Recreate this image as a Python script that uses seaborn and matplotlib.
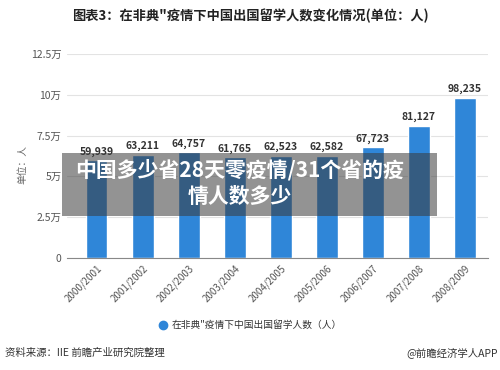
import matplotlib
matplotlib.use('Agg')
import matplotlib.pyplot as plt
import seaborn as sns
import pandas as pd
from matplotlib.patches import Rectangle
from matplotlib.lines import Line2D

# data
years = ['2000/2001', '2001/2002', '2002/2003', '2003/2004', '2004/2005',
         '2005/2006', '2006/2007', '2007/2008', '2008/2009']
students = [59939, 63211, 64757, 61765, 62523, 62582, 67723, 81127, 98235]
y_ticks = [0, 25000, 50000, 75000, 100000, 125000]
y_tick_labels = ['0', '2.5万', '5万', '7.5万', '10万', '12.5万']

sns.set_theme(style='white')
plt.rcParams['font.family'] = ['Noto Sans CJK SC', 'DejaVu Sans']

df = pd.DataFrame({'year': years, 'students': students})

fig = plt.figure(figsize=(5, 3.7), dpi=100)
ax = fig.add_axes([0.134, 0.303, 0.842, 0.551])

sns.barplot(data=df, x='year', y='students', color='#2f86d8', width=0.46,
            saturation=1, ax=ax)

ax.set_xlim(-0.65, 8.5)
ax.set_ylim(0, 125000)
ax.set_yticks(y_ticks)
ax.set_yticklabels(y_tick_labels, fontsize=7.5, color='#555555')
ax.yaxis.grid(True, color='#e3e3e3', linewidth=0.8)
ax.set_axisbelow(True)
ax.tick_params(axis='y', length=0, pad=4)
ax.tick_params(axis='x', length=3, color='#888888', pad=1)
ax.set_xticks(range(len(years)))
ax.set_xticklabels(years, rotation=45, ha='right', rotation_mode='anchor',
                   fontsize=7, color='#555555')
ax.set_xlabel('')
ax.set_ylabel('')
for s in ['top', 'right', 'left']:
    ax.spines[s].set_visible(False)
ax.spines['bottom'].set_color('#888888')
ax.spines['bottom'].set_linewidth(0.8)

for i, v in enumerate(students):
    ax.text(i, v + 2200, f'{v:,}', ha='center', va='bottom', fontsize=7.5,
            fontweight='bold', color='#333333')

fig.text(0.5, 0.957, '图表3：在非典"疫情下中国出国留学人数变化情况(单位：人)',
         ha='center', va='center', fontsize=9.5, fontweight='bold', color='#222222')
fig.text(0.044, 0.555, '单位：人', rotation=90, ha='center', va='center',
         fontsize=7, color='#666666')

# legend
fig.add_artist(Line2D([0.326], [0.121], marker='o', color='#2f86d8',
                      markersize=6, linestyle='none', transform=fig.transFigure))
fig.text(0.344, 0.121, '在非典"疫情下中国出国留学人数（人）', ha='left',
         va='center', fontsize=7, color='#333333')

# footer
fig.text(0.01, 0.046, '资料来源：IIE 前瞻产业研究院整理', ha='left', va='center',
         fontsize=7.5, color='#333333')
fig.text(0.995, 0.046, '@前瞻经济学人APP', ha='right', va='center',
         fontsize=7.5, color='#333333')

# grey overlay caption
fig.add_artist(Rectangle((0.124, 1 - 216 / 370), 0.75, 63 / 370,
                         transform=fig.transFigure, facecolor='#3a3a3a',
                         alpha=0.55, edgecolor='none', zorder=5))
fig.text(0.48, 1 - 170 / 370, '中国多少省28天零疫情/31个省的疫', ha='center',
         va='center', fontsize=15, fontweight='bold', color='white', zorder=6)
fig.text(0.48, 1 - 196 / 370, '情人数多少', ha='center', va='center',
         fontsize=15, fontweight='bold', color='white', zorder=6)

fig.savefig('out.png', dpi=100)
